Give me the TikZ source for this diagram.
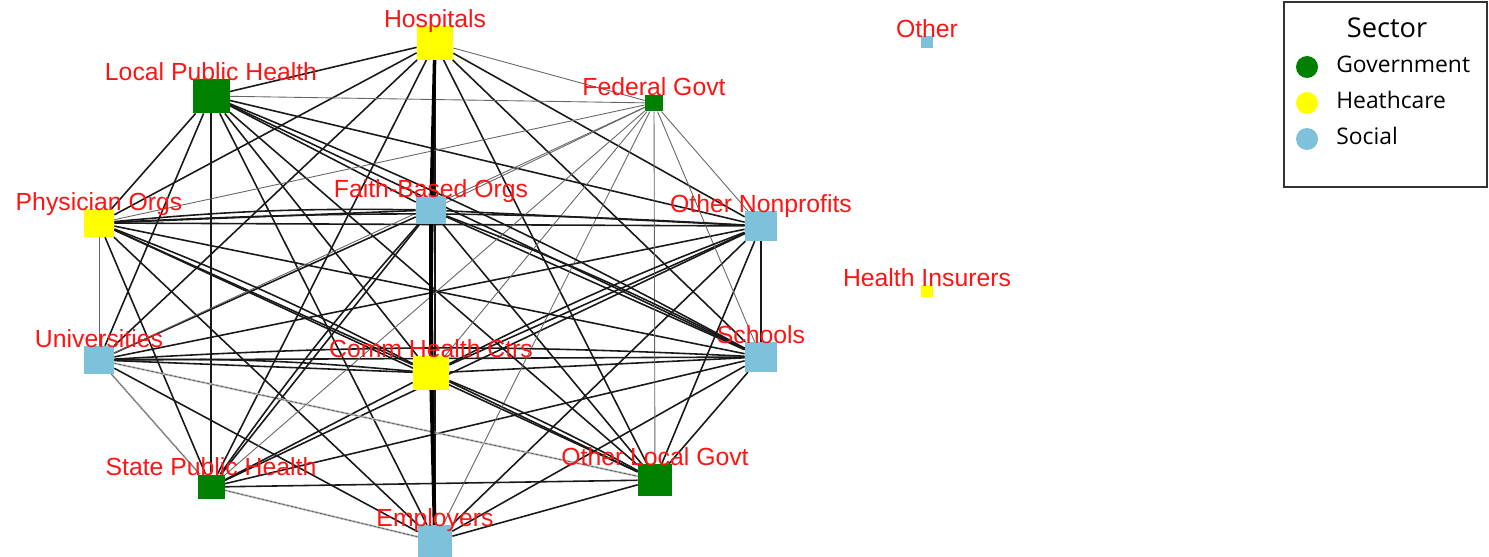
\documentclass[tikz,border=0pt]{standalone}
\usepackage{fontspec}
\setmainfont{Liberation Sans}
\newfontfamily\legfont{Open Sans}
\definecolor{govt}{RGB}{0,128,0}
\definecolor{hcare}{RGB}{255,255,0}
\definecolor{social}{RGB}{126,193,219}
\definecolor{labred}{RGB}{255,20,20}
\pgfdeclarelayer{background}
\pgfsetlayers{background,main}
\tikzset{
  sq/.style={rectangle, inner sep=0pt, draw=none, minimum width=#1*0.02cm, minimum height=#1*0.0185cm},
  lab/.style={text=labred, anchor=base, inner sep=0pt, yshift=-0.03cm, font=\fontsize{14.1}{17}\selectfont},
  edge/.style={line width=0.9pt, black!90},
  thinedge/.style={line width=0.5pt, black!60},
  legtext/.style={anchor=base west, inner sep=0pt, font=\legfont\fontsize{13}{15}\selectfont},
  dot/.style={circle, inner sep=0pt, minimum size=0.44cm}
}
\begin{document}
\begin{tikzpicture}[x=0.02cm, y=-0.02cm]
    \useasboundingbox (0,0) rectangle (1489,557);

    % Nodos
    \node[sq=36, fill=hcare]  (hosp)  at (435,43)  {};
    \node[sq=37, fill=govt]   (lph)   at (211,96)  {};
    \node[sq=18, fill=govt]   (fed)   at (654,103) {};
    \node[sq=30, fill=hcare]  (phys)  at (99,223)  {};
    \node[sq=30, fill=social] (faith) at (431,210) {};
    \node[sq=32, fill=social] (onp)   at (761,226) {};
    \node[sq=30, fill=social] (univ)  at (99,360)  {};
    \node[sq=36, fill=hcare]  (comm)  at (431,373) {};
    \node[sq=32, fill=social] (sch)   at (761,357) {};
    \node[sq=27, fill=govt]   (sph)   at (211,487) {};
    \node[sq=34, fill=govt]   (olg)   at (655,480) {};
    \node[sq=34, fill=social] (emp)   at (435,541) {};
    \node[sq=12, fill=social] (oth)   at (927,42)  {};
    \node[sq=12, fill=hcare]  (ins)   at (927,291) {};

    \begin{pgfonlayer}{background}
    % Aristas
    \foreach \a [count=\i] in {hosp,lph,phys,faith,onp,univ,comm,sch,sph,olg,emp}
      \foreach \b [count=\j] in {hosp,lph,phys,faith,onp,univ,comm,sch,sph,olg,emp}
        {\ifnum\j>\i \draw[edge] (\a) -- (\b); \fi}
    \foreach \b in {hosp,lph,phys,faith,onp,univ,comm,sch,sph,olg,emp}
      \draw[thinedge] (fed) -- (\b);
    \foreach \a/\b in {univ/sph, sph/emp, phys/univ, univ/olg}
      \draw[white, line width=1pt] (\a) -- (\b) (\a) edge[thinedge] (\b);

    % Aristas dobles
    \foreach \a/\b in {faith/sch, comm/olg, phys/comm, univ/sch, univ/comm, sph/faith, phys/onp, comm/onp, lph/sch, phys/faith}
      \draw[edge] (\a) to[bend left=3] (\b);
    \draw[line width=2pt] (hosp) -- (faith);
    \draw[line width=2.2pt] (faith) -- (comm);
    \draw[line width=2.2pt] (comm) -- (emp);
    \end{pgfonlayer}

    % Etiquetas
    \node[lab] (hosp-l)  at (hosp.north)  {Hospitals};
    \node[lab] (lph-l)   at (lph.north)   {Local Public Health};
    \node[lab] (fed-l)   at (fed.north)   {Federal Govt};
    \node[lab] (phys-l)  at (phys.north)  {Physician Orgs};
    \node[lab] (faith-l) at (faith.north) {Faith-Based Orgs};
    \node[lab] (onp-l)   at (onp.north)   {Other Nonprofits};
    \node[lab] (univ-l)  at (univ.north)  {Universities};
    \node[lab] (comm-l)  at (comm.north)  {Comm Health Ctrs};
    \node[lab] (sch-l)   at (sch.north)   {Schools};
    \node[lab] (sph-l)   at (sph.north)   {State Public Health};
    \node[lab] (olg-l)   at (olg.north)   {Other Local Govt};
    \node[lab] (emp-l)   at (emp.north)   {Employers};
    \node[lab] (oth-l)   at (oth.north)   {Other};
    \node[lab] (ins-l)   at (ins.north)   {Health Insurers};

    % Leyenda
    \draw[line width=0.8pt, black!80] (1284,2) rectangle (1487,187);
    \node[anchor=base, inner sep=0pt, font=\legfont\fontsize{15.5}{18}\selectfont] (sector) at (1387,38) {Sector};
    \node[dot, fill=govt]   (d1) at (1307,67)  {};
    \node[dot, fill=hcare]  (d2) at (1307,103) {};
    \node[dot, fill=social] (d3) at (1307,139) {};
    \node[legtext] (t1) at (1336,73)  {Government};
    \node[legtext] (t2) at (1336,109) {Heathcare};
    \node[legtext] (t3) at (1336,145) {Social};
\end{tikzpicture}
\end{document}
